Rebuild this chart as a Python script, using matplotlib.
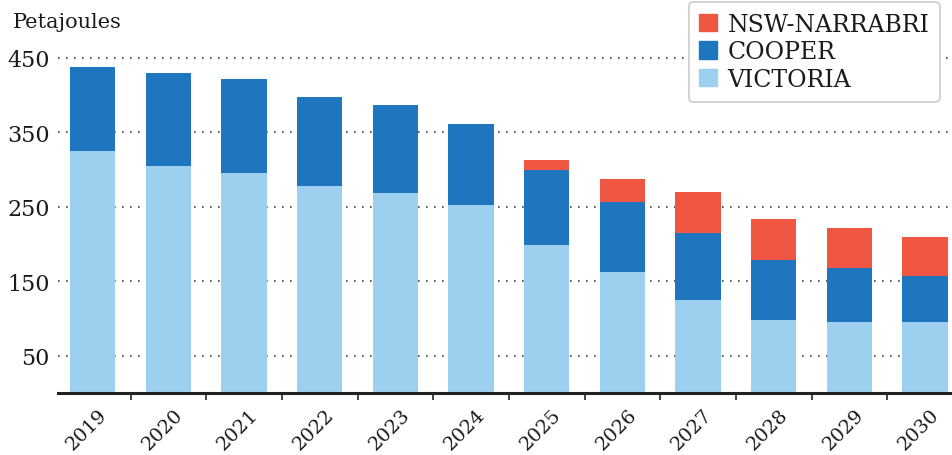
import matplotlib
matplotlib.use("Agg")
import matplotlib.pyplot as plt
from matplotlib.patches import Patch
from matplotlib.transforms import ScaledTranslation
import numpy as np

years = ["2019", "2020", "2021", "2022", "2023", "2024", "2025", "2026", "2027", "2028", "2029", "2030"]
victoria = [325, 305, 296, 278, 268, 252, 199, 162, 125, 98, 96, 96]
cooper = [113, 125, 125, 120, 119, 109, 101, 95, 90, 81, 72, 61]
nsw = [0, 0, 0, 0, 0, 0, 13, 30, 55, 54, 53, 53]
yticks = [50, 150, 250, 350, 450]

c_vic = "#9dcfee"
c_coop = "#1f76be"
c_nsw = "#ef5743"

plt.rcParams['font.family'] = ['DejaVu Serif']

fig = plt.figure(figsize=(9.53, 4.56), dpi=100)
ax = fig.add_axes([58/953, (456-394)/456, 1 - 58/953, (394-44)/456])

x = np.arange(len(years))
w = 0.6
vic = np.array(victoria)
coop = np.array(cooper)
ns = np.array(nsw)
ax.bar(x, vic, w, color=c_vic, zorder=2)
ax.bar(x, coop, w, bottom=vic, color=c_coop, zorder=2)
ax.bar(x, ns, w, bottom=vic + coop, color=c_nsw, zorder=2)

ax.set_xlim(-0.46, 11.37)
ax.set_ylim(0, 470)
ax.set_yticks(yticks)
ax.set_yticklabels([str(v) for v in yticks], fontsize=16, color="#1a1a1a")
ax.tick_params(axis='y', length=0, pad=6)
for v in yticks:
    ax.axhline(v, color="#444444", lw=1.2, ls=(0, (1, 3.8)), zorder=1)

ax.set_xticks(x[:-1] + 0.5)
ax.set_xticklabels([])
ax.tick_params(axis='x', which='major', length=5, width=1.2, color="#222222", direction='out')
ax.set_xticks(x, minor=True)
ax.set_xticklabels(years, minor=True, rotation=45, ha='center', va='top', fontsize=14, color="#1a1a1a")
ax.tick_params(axis='x', which='minor', length=0, pad=9)
off = ScaledTranslation(-6/100, 0, fig.dpi_scale_trans)
for lbl in ax.get_xticklabels(minor=True):
    lbl.set_transform(lbl.get_transform() + off)

for s in ['top', 'right', 'left']:
    ax.spines[s].set_visible(False)
ax.spines['bottom'].set_linewidth(2.2)
ax.spines['bottom'].set_color("#222222")
ax.spines['bottom'].set_zorder(3)

fig.text(13/953, 1 - 28/456, "Petajoules", fontsize=15, color="#1a1a1a", va='baseline', ha='left')

handles = [Patch(color=c_nsw), Patch(color=c_coop), Patch(color=c_vic)]
leg = fig.legend(handles, ["NSW-NARRABRI", "COOPER", "VICTORIA"],
                 loc='upper right', bbox_to_anchor=(940/953, 1 - 3/456),
                 fontsize=17, frameon=True, fancybox=True, framealpha=1,
                 edgecolor="#cccccc", handlelength=0.75, handleheight=0.75,
                 handletextpad=0.45, labelspacing=0.2, borderpad=0.45,
                 borderaxespad=0)
leg.get_frame().set_linewidth(1.2)
for t in leg.get_texts():
    t.set_color("#1a1a1a")

fig.savefig("out.png", dpi=100)
